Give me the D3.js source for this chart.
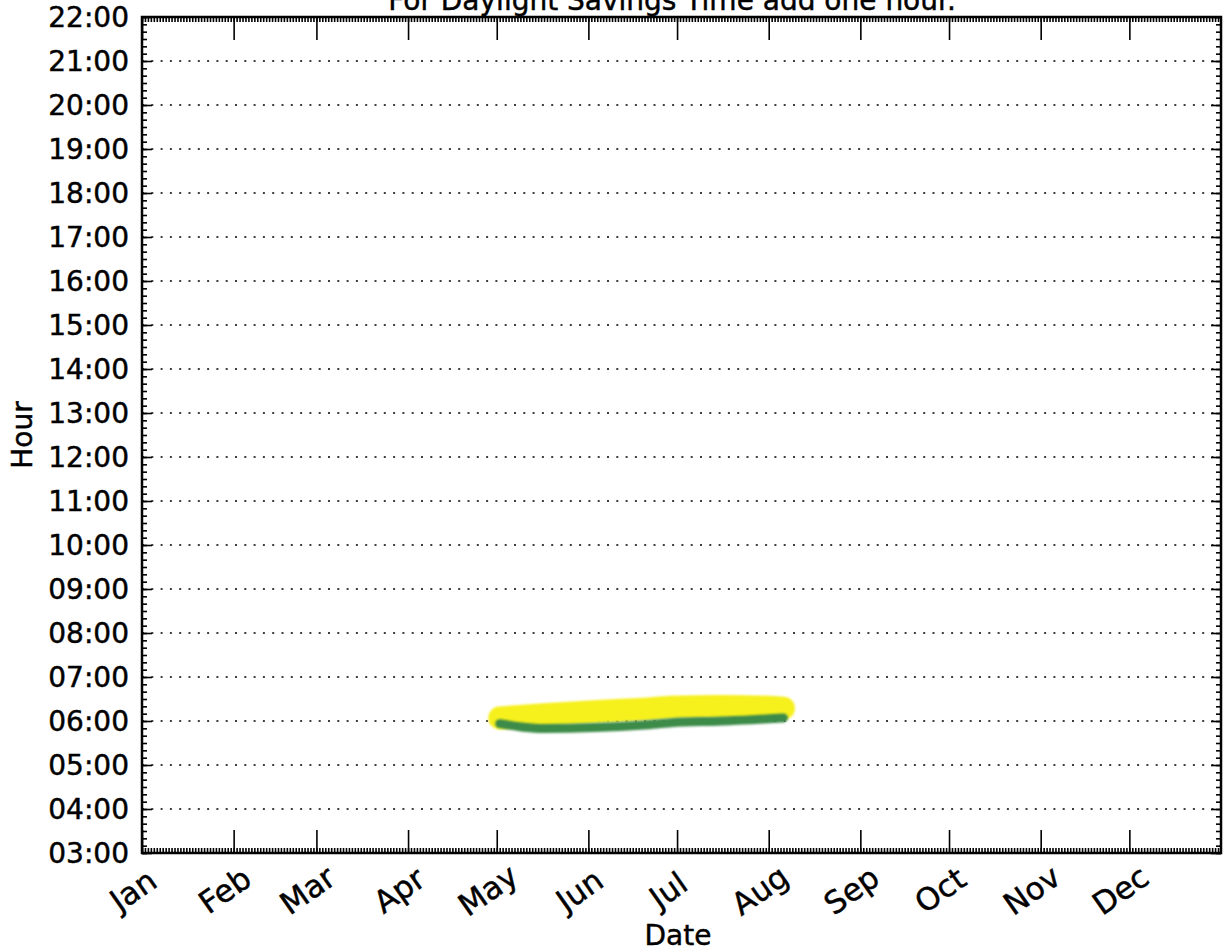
<!DOCTYPE html>
<html>
<head>
<meta charset="utf-8">
<script src="https://cdn.jsdelivr.net/npm/d3@7"></script>
<style>
  html, body { margin: 0; padding: 0; background: #fff; }
  svg { display: block; font-family: "DejaVu Sans", sans-serif; }
  text { stroke: #000; stroke-width: 0.45px; }
</style>
</head>
<body>
<svg id="chart" width="1224" height="952"></svg>
<script>
// Month tick labels along the date axis
const monthLabels = ["Jan", "Feb", "Mar", "Apr", "May", "Jun", "Jul", "Aug", "Sep", "Oct", "Nov", "Dec"];

// Hour tick values and labels
const hourValues = [3, 4, 5, 6, 7, 8, 9, 10, 11, 12, 13, 14, 15, 16, 17, 18, 19, 20, 21, 22];
const hourLabels = ["03:00", "04:00", "05:00", "06:00", "07:00", "08:00", "09:00", "10:00", "11:00",
  "12:00", "13:00", "14:00", "15:00", "16:00", "17:00", "18:00", "19:00", "20:00", "21:00", "22:00"];

// Upper (yellow) band: date and hour of day
const bandDates = ["2013-05-02", "2013-05-17", "2013-06-03", "2013-06-20", "2013-06-29", "2013-07-16", "2013-08-04", "2013-08-06"];
const bandHours = [6.07, 6.14, 6.21, 6.27, 6.31, 6.33, 6.30, 6.29];

// Lower (green) line: date and hour of day
const lineDates = ["2013-05-02", "2013-05-10", "2013-05-17", "2013-06-03", "2013-06-20", "2013-06-29", "2013-07-16", "2013-08-04", "2013-08-06"];
const lineHours = [5.94, 5.86, 5.83, 5.85, 5.91, 5.96, 6.00, 6.06, 6.07];

const svg = d3.select("#chart");
const plotLeft = 142, plotRight = 1221, plotTop = 17, plotBottom = 853;

const parse = d3.timeParse("%Y-%m-%d");
const yearStart = new Date(2013, 0, 1), yearEnd = new Date(2014, 0, 1);

const x = d3.scaleTime().domain([yearStart, yearEnd]).range([plotLeft, plotRight]);
const y = d3.scaleLinear().domain([3, 22]).range([plotBottom, plotTop]);

// Soft edge for the thick strokes
const defs = svg.append("defs");
defs.append("filter").attr("id", "soft")
  .attr("filterUnits", "userSpaceOnUse")
  .attr("x", 0).attr("y", 0).attr("width", 1224).attr("height", 952)
  .append("feGaussianBlur").attr("stdDeviation", 0.9);

// Dotted horizontal grid at every hour
svg.append("g")
  .selectAll("line")
  .data(hourValues.filter(h => h > 3 && h < 22))
  .join("line")
  .attr("x1", plotLeft).attr("x2", plotRight)
  .attr("y1", d => y(d)).attr("y2", d => y(d))
  .attr("stroke", "#000")
  .attr("stroke-width", 1.6)
  .attr("stroke-dasharray", "2,7.3");

// Data marks
const band = bandDates.map((d, i) => ({ date: parse(d), hour: bandHours[i] }));
const line = lineDates.map((d, i) => ({ date: parse(d), hour: lineHours[i] }));
const path = d3.line().x(d => x(d.date)).y(d => y(d.hour)).curve(d3.curveMonotoneX);

svg.append("path")
  .datum(band)
  .attr("d", path)
  .attr("fill", "none")
  .attr("stroke", "#f6f01f")
  .attr("stroke-width", 23)
  .attr("stroke-linecap", "round")
  .attr("filter", "url(#soft)");

svg.append("path")
  .datum(line)
  .attr("d", path)
  .attr("fill", "none")
  .attr("stroke", "#3c8b48")
  .attr("stroke-width", 9)
  .attr("stroke-linecap", "round")
  .attr("filter", "url(#soft)");

// Ticks (all pointing inward)
const monthTicks = d3.timeMonth.range(yearStart, yearEnd);
const dayTicks = d3.timeDay.range(yearStart, yearEnd);
const minorHours = d3.range(3, 22.001, 1 / 6);

function tickGroup(axis, tx, ty) {
  const g = svg.append("g").attr("transform", `translate(${tx},${ty})`).call(axis);
  g.select(".domain").remove();
  g.selectAll("text").remove();
  g.selectAll("line").attr("stroke", "#000").attr("stroke-width", 1.6);
  return g;
}

tickGroup(d3.axisBottom(x).tickValues(dayTicks).tickSize(-5), 0, plotBottom);
tickGroup(d3.axisTop(x).tickValues(dayTicks).tickSize(-5), 0, plotTop);
tickGroup(d3.axisBottom(x).tickValues(monthTicks).tickSize(-23), 0, plotBottom);
tickGroup(d3.axisTop(x).tickValues(monthTicks).tickSize(-23), 0, plotTop);

tickGroup(d3.axisLeft(y).tickValues(minorHours).tickSize(-5), plotLeft, 0);
tickGroup(d3.axisRight(y).tickValues(minorHours).tickSize(-5), plotRight, 0);
tickGroup(d3.axisLeft(y).tickValues(hourValues).tickSize(-10), plotLeft, 0);
tickGroup(d3.axisRight(y).tickValues(hourValues).tickSize(-10), plotRight, 0);

// Plot frame
svg.append("rect")
  .attr("x", plotLeft).attr("y", plotTop)
  .attr("width", plotRight - plotLeft).attr("height", plotBottom - plotTop)
  .attr("fill", "none")
  .attr("stroke", "#000")
  .attr("stroke-width", 2.5);

// Hour labels
svg.append("g")
  .selectAll("text")
  .data(hourValues)
  .join("text")
  .attr("x", plotLeft - 13)
  .attr("y", d => y(d))
  .attr("dy", "0.36em")
  .attr("text-anchor", "end")
  .attr("font-size", 28)
  .attr("fill", "#000")
  .text((d, i) => hourLabels[i]);

// Month labels, rotated
svg.append("g")
  .selectAll("text")
  .data(monthTicks)
  .join("text")
  .attr("transform", d => `translate(${x(d) - 9},${890}) rotate(-35)`)
  .attr("dy", "0.36em")
  .attr("text-anchor", "middle")
  .attr("font-size", 31)
  .attr("fill", "#000")
  .text((d, i) => monthLabels[i]);

// Axis titles
svg.append("text")
  .attr("x", 678).attr("y", 945)
  .attr("text-anchor", "middle")
  .attr("font-size", 28)
  .text("Date");

svg.append("text")
  .attr("transform", `translate(32,${(plotTop + plotBottom) / 2}) rotate(-90)`)
  .attr("text-anchor", "middle")
  .attr("font-size", 28)
  .text("Hour");

// Chart title
svg.append("text")
  .attr("x", 672).attr("y", 10)
  .attr("text-anchor", "middle")
  .attr("font-size", 28)
  .text("For Daylight Savings Time add one hour.");
</script>
</body>
</html>
